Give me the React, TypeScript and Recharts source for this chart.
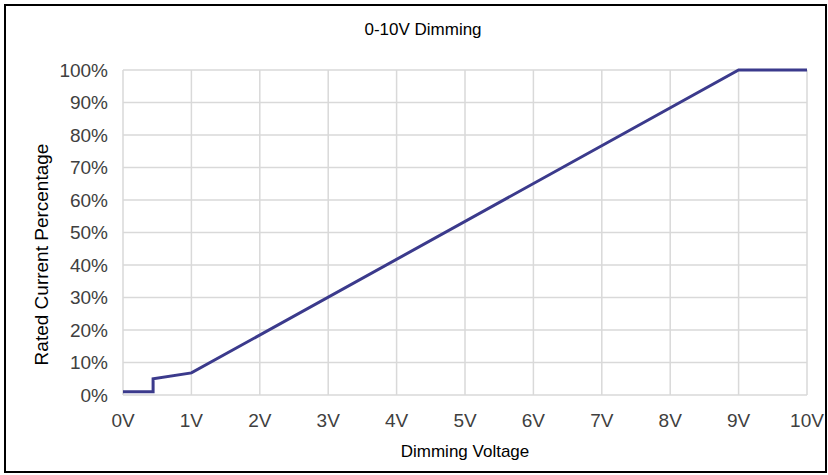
import { LineChart, Line, XAxis, YAxis, CartesianGrid } from "recharts";

// step at ~0.44V, then linear from 1V to 9V, flat to 10V
const voltage = [0, 0.44, 0.44, 1, 9, 10];
const currentPct = [1, 1, 5, 6.8, 100, 100];

const xTicks = [0, 1, 2, 3, 4, 5, 6, 7, 8, 9, 10];
const yTicks = [0, 10, 20, 30, 40, 50, 60, 70, 80, 90, 100];

const FONT = "Arial, 'Liberation Sans', sans-serif";
const LINE_COLOR = "#3b3a8c";
const GRID_COLOR = "#d9d9d9";
const TICK_COLOR = "#404040";

const data = voltage.map((v, i) => ({ v, pct: currentPct[i] }));

function YTitle(props: any) {
  const vb = props.viewBox || {};
  const cy = (vb.y ?? 0) + (vb.height ?? 0) / 2 + 22;
  const cx = 48;
  return (
    <text
      x={cx}
      y={cy}
      transform={`rotate(-90, ${cx}, ${cy})`}
      textAnchor="middle"
      fontSize={19}
      fontFamily={FONT}
      fill="#000"
    >
      Rated Current Percentage
    </text>
  );
}

export default function App() {
  return (
    <div style={{ position: "relative", width: 828, height: 475, background: "#fff" }}>
      <style>{"body{margin:0}"}</style>
      <div
        style={{
          position: "absolute",
          left: 4,
          top: 4,
          width: 823,
          height: 469,
          boxSizing: "border-box",
          border: "2px solid #000",
        }}
      />
      <div
        style={{
          position: "absolute",
          left: 0,
          top: 20,
          width: 846,
          textAlign: "center",
          fontFamily: FONT,
          fontSize: 17,
          lineHeight: "20px",
          color: "#000",
        }}
      >
        0-10V Dimming
      </div>
      <div style={{ position: "absolute", left: 0, top: 0 }}>
        <LineChart
          width={828}
          height={475}
          data={data}
          margin={{ top: 70, right: 21, left: 0, bottom: 0 }}
        >
          <CartesianGrid stroke={GRID_COLOR} strokeWidth={1.5} />
          <XAxis
            dataKey="v"
            type="number"
            domain={[0, 10]}
            ticks={xTicks}
            tickFormatter={(t) => `${t}V`}
            height={80}
            axisLine={false}
            tickLine={false}
            tickSize={0}
            tickMargin={19}
            tick={{ fontSize: 19, fontFamily: FONT, fill: TICK_COLOR }}
            label={{
              value: "Dimming Voltage",
              position: "insideBottom",
              offset: 18,
              fontSize: 17,
              fontFamily: FONT,
              fill: "#000",
            }}
          />
          <YAxis
            type="number"
            domain={[0, 100]}
            ticks={yTicks}
            tickFormatter={(t) => `${t}%`}
            width={123}
            axisLine={false}
            tickLine={false}
            tickSize={0}
            tickMargin={15}
            tick={{ fontSize: 19, fontFamily: FONT, fill: TICK_COLOR }}
            label={<YTitle />}
          />
          <Line
            type="linear"
            dataKey="pct"
            stroke={LINE_COLOR}
            strokeWidth={3}
            dot={false}
            activeDot={false}
            isAnimationActive={false}
          />
        </LineChart>
      </div>
    </div>
  );
}
